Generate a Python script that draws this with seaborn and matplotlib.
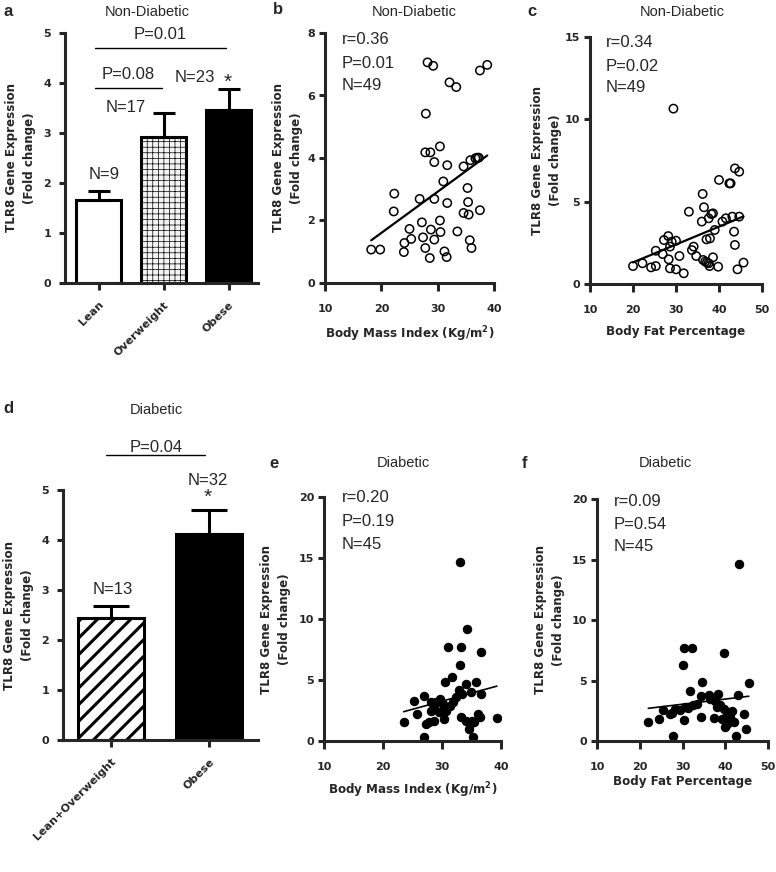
import numpy as np
import matplotlib
matplotlib.use("Agg")
import matplotlib.pyplot as plt
import seaborn as sns

# ---- panel a / d: bar data (mean, SEM) ----
groups_a = ["Lean", "Overweight", "Obese"]
means_a = [1.65, 2.92, 3.45]
sem_a = [0.18, 0.48, 0.42]

groups_d = ["Lean+Overweight", "Obese"]
means_d = [2.45, 4.12]
sem_d = [0.24, 0.48]

# ---- panel b: BMI vs TLR8, non-diabetic ----
bmi_nd = [18.2, 19.8, 22.3, 22.2, 24.0, 24.1, 25.0, 25.3, 26.8, 27.2, 27.4, 27.8,
          28.6, 27.9, 28.2, 29.2, 27.8, 28.7, 29.4, 29.4, 28.8, 29.4, 30.4, 30.4,
          30.5, 31.0, 31.2, 31.6, 31.7, 31.7, 32.1, 33.3, 33.5, 34.6, 34.6, 35.3,
          35.4, 35.5, 35.7, 36.0, 35.8, 36.7, 37.0, 37.3, 37.5, 37.5, 38.8]
tlr8_bmi_nd = [1.07, 1.07, 2.86, 2.29, 0.99, 1.28, 1.73, 1.41, 2.69, 1.94, 1.46, 1.12,
               0.80, 5.42, 7.06, 6.95, 4.18, 4.18, 3.87, 2.69, 1.71, 1.39, 4.37, 2.00,
               1.63, 3.25, 1.01, 0.83, 2.56, 3.77, 6.42, 6.27, 1.65, 3.73, 2.24, 3.04,
               2.59, 2.19, 1.37, 1.12, 3.93, 3.99, 4.01, 4.01, 2.33, 6.80, 6.98]

# ---- panel c: body fat vs TLR8, non-diabetic ----
fat_nd = [20.0, 22.2, 24.2, 25.3, 25.3, 27.2, 28.2, 29.0, 30.0, 26.9, 28.3, 28.6,
          28.6, 30.0, 30.8, 31.8, 33.0, 33.7, 34.1, 34.7, 36.0, 36.2, 36.5, 37.1,
          37.9, 37.6, 38.2, 38.6, 39.0, 36.3, 36.8, 37.2, 37.6, 37.8, 38.6, 39.8,
          40.0, 40.8, 41.6, 42.4, 42.7, 43.1, 43.5, 43.7, 43.7, 44.7, 44.7, 44.3,
          45.7, 29.4]
tlr8_fat_nd = [1.09, 1.26, 1.01, 1.09, 2.02, 2.67, 2.91, 2.57, 2.63, 1.82, 1.50, 2.27,
               0.95, 0.89, 1.70, 0.65, 4.39, 2.06, 2.27, 1.70, 3.79, 5.47, 4.66, 2.71,
               2.77, 3.99, 4.25, 4.29, 3.28, 1.46, 1.36, 1.30, 1.26, 1.09, 1.62, 1.05,
               6.32, 3.79, 3.99, 6.11, 6.11, 4.09, 3.18, 2.37, 7.02, 6.82, 4.09, 0.89,
               1.30, 10.65]

# ---- panel e: BMI vs TLR8, diabetic ----
bmi_d = [31.1, 33.3, 36.6, 33.0, 31.7, 30.5, 34.1, 35.8, 32.8, 33.4, 34.9, 36.6,
         27.0, 25.3, 28.1, 29.7, 28.7, 30.1, 31.3, 31.8, 25.8, 28.1, 29.5, 30.7,
         30.4, 28.7, 27.3, 23.5, 33.3, 34.1, 34.7, 34.5, 35.3, 27.0, 36.1, 36.4,
         35.5, 39.3, 32.4, 29.0, 35.0, 27.8, 33.1, 34.2]
tlr8_bmi_d = [7.68, 7.68, 7.32, 6.26, 5.27, 4.81, 4.67, 4.81, 4.21, 3.85, 3.99, 3.85,
              3.72, 3.31, 3.17, 3.44, 2.76, 3.03, 2.90, 3.17, 2.21, 2.49, 2.35, 2.49,
              1.80, 1.67, 1.39, 1.53, 1.94, 1.67, 1.39, 0.98, 0.30, 0.36, 2.21, 1.94,
              1.53, 1.86, 3.58, 3.17, 1.67, 1.53, 14.7, 9.2]

# ---- panel f: body fat vs TLR8, diabetic ----
fat_d = [30.4, 32.3, 39.6, 30.0, 45.5, 34.5, 31.8, 34.3, 38.4, 43.0, 36.5, 37.5,
         33.3, 38.8, 25.5, 27.5, 29.4, 31.4, 30.6, 28.2, 41.6, 44.3, 22.0, 24.5,
         30.4, 34.3, 37.3, 39.2, 40.4, 42.0, 40.0, 44.9, 27.8, 42.6, 32.5, 36.1,
         39.6, 41.2, 27.1, 38.0, 40.4, 43.2]
tlr8_fat_d = [7.71, 7.71, 7.30, 6.31, 4.82, 4.88, 4.10, 3.72, 3.91, 3.77, 3.50, 3.28,
              3.09, 2.95, 2.53, 2.34, 2.53, 2.73, 2.81, 2.67, 2.45, 2.26, 1.57, 1.79,
              1.71, 1.98, 1.90, 1.79, 1.43, 1.57, 1.16, 1.02, 0.39, 0.39, 2.95, 3.77,
              2.67, 1.98, 2.26, 2.81, 2.26, 14.6]

FIG_W, FIG_H = 776, 872
TICK_FS = 8
LABEL_FS = 8.6

sns.set_style("ticks")
plt.rcParams["font.family"] = ["Liberation Sans", "DejaVu Sans"]
plt.rcParams["axes.linewidth"] = 2.2
plt.rcParams["xtick.major.width"] = 2.2
plt.rcParams["ytick.major.width"] = 2.2
plt.rcParams["xtick.major.size"] = 5
plt.rcParams["ytick.major.size"] = 4

fig = plt.figure(figsize=(FIG_W / 100, FIG_H / 100), dpi=100)


def add_ax(left, right, top, bottom):
    # pixel box -> figure fraction
    return fig.add_axes([left / FIG_W, 1 - bottom / FIG_H,
                         (right - left) / FIG_W, (bottom - top) / FIG_H])


def style_ax(ax, label_x):
    sns.despine(ax=ax)
    ax.set_ylabel("TLR8 Gene Expression\n(Fold change)", fontsize=LABEL_FS,
                  fontweight="bold", family="DejaVu Sans", linespacing=1.5)
    ax.yaxis.set_label_coords(label_x, 0.5)
    for t in ax.get_xticklabels() + ax.get_yticklabels():
        t.set_fontweight("bold")
        t.set_fontsize(TICK_FS)
        t.set_family("DejaVu Sans")


def fig_text(x, y, s, **kw):
    fig.text(x / FIG_W, 1 - y / FIG_H, s, **kw)


def bar_panel(ax, groups, means, sems, styles, width, capsize):
    sns.barplot(x=groups, y=means, ax=ax, color="white", width=width,
                edgecolor="black", linewidth=2.2, errorbar=None)
    for p, (fc, hatch, hlw) in zip(ax.patches, styles):
        p.set_facecolor(fc)
        p.set_hatch(hatch)
        if hasattr(p, "set_hatch_linewidth"):
            p.set_hatch_linewidth(hlw)
    ax.errorbar(np.arange(len(groups)), means, yerr=[np.zeros(len(sems)), sems],
                fmt="none", ecolor="black", elinewidth=2.2, capsize=capsize,
                capthick=2.2, zorder=1)
    ax.set_ylim(0, 5)
    ax.set_yticks([0, 1, 2, 3, 4, 5])


def scatter_panel(ax, x, y, filled, xlim, ylim, yticks, xticks, lw_line):
    if filled:
        skw = dict(s=36, facecolors="black", edgecolors="black", linewidths=0.8, alpha=1)
    else:
        skw = dict(s=36, facecolors="none", edgecolors="black", linewidths=1.1, alpha=1)
    sns.regplot(x=np.array(x), y=np.array(y), ax=ax, ci=None, color="black",
                scatter_kws=skw, line_kws=dict(lw=lw_line, color="black"))
    ax.set_xlim(*xlim)
    ax.set_ylim(*ylim)
    ax.set_xticks(xticks)
    ax.set_yticks(yticks)
    ax.tick_params(axis="x", pad=9, length=6)
    ax.tick_params(axis="y", pad=3)


def stats(ax, lines, x, ys):
    for s, yy in zip(lines, ys):
        ax.text(x, yy, s, transform=ax.transAxes, fontsize=12, ha="left",
                va="center", clip_on=False)


def bar_ticklabels(ax, groups):
    ax.set_xticks(range(len(groups)))
    ax.set_xticklabels(groups, rotation=45, ha="right", rotation_mode="anchor",
                       fontweight="bold", fontsize=TICK_FS, family="DejaVu Sans")
    ax.set_xlabel("")


# ================= a =================
ax_a = add_ax(65, 258, 33, 283)
bar_panel(ax_a, groups_a, means_a, sem_a,
          [("white", "", 1.0), ("#f4f4f4", "+++", 0.5), ("black", "", 1.0)],
          width=0.69, capsize=8)
ax_a.set_xlim(-0.52, 2.45)
ax_a.tick_params(axis="y", pad=6)
ax_a.tick_params(axis="x", pad=7)
style_ax(ax_a, -0.15)
bar_ticklabels(ax_a, groups_a)
ax_a.plot([-0.06, 1.95], [4.7, 4.7], color="black", lw=1, clip_on=False)
ax_a.text(0.95, 4.97, "P=0.01", ha="center", va="center", fontsize=12)
ax_a.plot([-0.06, 0.97], [3.9, 3.9], color="black", lw=1, clip_on=False)
ax_a.text(0.45, 4.17, "P=0.08", ha="center", va="center", fontsize=12)
ax_a.text(0.41, 3.52, "N=17", ha="center", va="center", fontsize=12)
ax_a.text(1.47, 4.1, "N=23", ha="center", va="center", fontsize=12)
ax_a.text(1.98, 4.02, "*", ha="center", va="center", fontsize=15)
ax_a.text(0.08, 2.17, "N=9", ha="center", va="center", fontsize=12)

# ================= b =================
ax_b = add_ax(325, 494, 33, 283)
scatter_panel(ax_b, bmi_nd, tlr8_bmi_nd, False, (10, 40), (0, 8),
              [0, 2, 4, 6, 8], [10, 20, 30, 40], 1.6)
style_ax(ax_b, -0.13)
ax_b.set_xlabel("Body Mass Index (Kg/m$^{\\mathbf{2}}$)", fontsize=LABEL_FS,
                fontweight="bold", family="DejaVu Sans")
ax_b.xaxis.set_label_coords(0.5, -0.165)
stats(ax_b, ["r=0.36", "P=0.01", "N=49"], 0.10, [0.976, 0.88, 0.792])

# ================= c =================
ax_c = add_ax(590, 762, 37, 284)
scatter_panel(ax_c, fat_nd, tlr8_fat_nd, False, (10, 50), (0, 15),
              [0, 5, 10, 15], [10, 20, 30, 40, 50], 1.6)
style_ax(ax_c, -0.16)
ax_c.set_xlabel("Body Fat Percentage", fontsize=LABEL_FS, fontweight="bold",
                family="DejaVu Sans")
ax_c.xaxis.set_label_coords(0.5, -0.165)
stats(ax_c, ["r=0.34", "P=0.02", "N=49"], 0.093, [0.976, 0.879, 0.794])

# ================= d =================
ax_d = add_ax(63, 258, 490, 740)
bar_panel(ax_d, groups_d, means_d, sem_d,
          [("white", "//", 2.2), ("black", "", 1.0)],
          width=0.68, capsize=13)
ax_d.set_xlim(-0.49, 1.5)
ax_d.tick_params(axis="y", pad=6)
ax_d.tick_params(axis="x", pad=7)
style_ax(ax_d, -0.15)
bar_ticklabels(ax_d, groups_d)
ax_d.plot([-0.05, 0.96], [5.7, 5.7], color="black", lw=1, clip_on=False)
ax_d.text(0.46, 5.86, "P=0.04", ha="center", va="center", fontsize=12)
ax_d.text(0.99, 5.2, "N=32", ha="center", va="center", fontsize=12)
ax_d.text(0.99, 4.86, "*", ha="center", va="center", fontsize=15)
ax_d.text(0.02, 3.0, "N=13", ha="center", va="center", fontsize=12)

# ================= e =================
ax_e = add_ax(324, 501, 497, 741)
scatter_panel(ax_e, bmi_d, tlr8_bmi_d, True, (10, 40), (0, 20),
              [0, 5, 10, 15, 20], [10, 20, 30, 40], 1.2)
style_ax(ax_e, -0.185)
ax_e.set_xlabel("Body Mass Index (Kg/m$^{\\mathbf{2}}$)", fontsize=LABEL_FS,
                fontweight="bold", family="DejaVu Sans")
ax_e.xaxis.set_label_coords(0.5, -0.16)
stats(ax_e, ["r=0.20", "P=0.19", "N=45"], 0.10, [1.0, 0.898, 0.807])

# ================= f =================
ax_f = add_ax(597, 768, 499, 741)
scatter_panel(ax_f, fat_d, tlr8_fat_d, True, (10, 50), (0, 20),
              [0, 5, 10, 15, 20], [10, 20, 30, 40, 50], 1.2)
style_ax(ax_f, -0.185)
ax_f.set_xlabel("Body Fat Percentage", fontsize=LABEL_FS, fontweight="bold",
                family="DejaVu Sans")
ax_f.xaxis.set_label_coords(0.5, -0.14)
stats(ax_f, ["r=0.09", "P=0.54", "N=45"], 0.098, [0.988, 0.893, 0.802])

# ---- titles and panel letters ----
for x, y, s in [(147, 12, "Non-Diabetic"), (414, 12, "Non-Diabetic"),
                (682, 12, "Non-Diabetic"), (156, 410, "Diabetic"),
                (403, 463, "Diabetic"), (665, 463, "Diabetic")]:
    fig_text(x, y, s, ha="center", va="center", fontsize=10.5)
for x, y, s in [(8, 12, "a"), (278, 10, "b"), (532, 12, "c"),
                (8, 408, "d"), (274, 463, "e"), (525, 463, "f")]:
    fig_text(x, y, s, ha="center", va="center", fontsize=12, fontweight="bold")

fig.savefig("out.png", dpi=100)
